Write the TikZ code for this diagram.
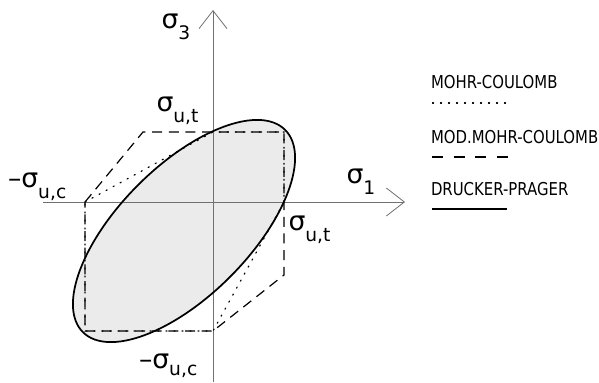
\documentclass[tikz,border=0pt]{standalone}
\usepackage{fontspec}
\setmainfont{DejaVu Sans}
\newfontfamily\legfont[FakeStretch=0.84]{DejaVu Sans}
\usetikzlibrary{arrows.meta}
\definecolor{fillgray}{HTML}{EBEBEB}
\definecolor{axisgray}{HTML}{707070}
\newcommand{\sgm}[1]{{\fontsize{20}{24}\selectfont σ}\raisebox{-8.25pt}{\fontsize{14}{16}\selectfont #1}}
\newcommand{\msgm}[1]{{\fontsize{20}{24}\selectfont –σ}\raisebox{-8.25pt}{\fontsize{14}{16}\selectfont #1}}
\newcommand{\msgmlow}[1]{{\fontsize{20}{24}\selectfont –σ}\raisebox{-5.5pt}{\fontsize{14}{16}\selectfont #1}}
\tikzset{
  axisline/.style={draw=axisgray, line width=0.6pt, -{Straight Barb[length=13.5pt,width=21pt,line width=0.6pt]}},
  mcline/.style={line width=0.9pt, dash pattern=on 0.9pt off 5.1pt, line cap=round},
  mmcline/.style={line width=0.9pt, dash pattern=on 7.5pt off 5pt},
  dpline/.style={line width=1.3pt},
  lab/.style={inner sep=0pt, outer sep=0pt, anchor=base west},
  leg/.style={inner sep=0pt, outer sep=0pt, anchor=base west, font=\legfont\fontsize{13.3}{16}\selectfont},
}
\begin{document}
\begin{tikzpicture}[x=0.75pt, y=-0.75pt]
\useasboundingbox (0,0) rectangle (599,382);
% axes end points
\coordinate (xl) at (43,202);
\coordinate (xr) at (405,202);
\coordinate (yb) at (213,382);
\coordinate (yt) at (213,10);
% vertices
\coordinate (cl) at (85,202);   % (-c,0)
\coordinate (ct) at (213,132);  % (0,t)
\coordinate (tt) at (284,132);  % (t,t)
\coordinate (tz) at (284,202);  % (t,0)
\coordinate (zc) at (213,331);  % (0,-c)
\coordinate (cc) at (85,331);   % (-c,-c)
\coordinate (mt) at (143,132);  % modified upper-left
\coordinate (tm) at (284,275);  % modified lower-right
\coordinate (ec) at (184,231);  % ellipse centre
% ellipse fill
\fill[fillgray, rotate around={45:(ec)}] (ec) ellipse [x radius=107.25pt, y radius=48.75pt];
% axes
\draw[axisline] (xl) -- (xr);
\draw[axisline] (yb) -- (yt);
% Mohr-Coulomb
\draw[mcline] (cl) -- (ct) -- (tt) -- (tz) -- (zc) -- (cc) -- cycle;
% modified Mohr-Coulomb
\draw[mmcline] (cl) -- (mt) -- (tt) -- (tm) -- (zc) -- (cc) -- cycle;
% Drucker-Prager
\draw[dpline, rotate around={45:(ec)}] (ec) ellipse [x radius=107.25pt, y radius=48.75pt];
% labels
\node[lab] (s3) at (161.5,28) {\sgm{3}};
\node[lab] (s1) at (346.5,183) {\sgm{1}};
\node[lab] (sut1) at (156.5,111) {\sgm{u,t}};
\node[lab] (sut2) at (288.5,230) {\sgm{u,t}};
\node[lab] (suc1) at (8,187) {\msgm{u,c}};
\node[lab] (suc2) at (139,368) {\msgmlow{u,c}};
% legend
\node[leg] (mc) at (431,88) {MOHR-COULOMB};
\node[leg] (mmc) at (431,143) {MOD.MOHR-COULOMB};
\node[leg] (dp) at (431,195) {DRUCKER-PRAGER};
\coordinate (mca) at (432.5,103);
\coordinate (mcb) at (510,103);
\coordinate (mmca) at (432,157);
\coordinate (mmcb) at (508,157);
\coordinate (dpa) at (432,209);
\coordinate (dpb) at (507,209);
\draw[line width=0.9pt, dash pattern=on 0.8pt off 5.2pt, line cap=round] (mca) -- (mcb);
\draw[line width=1.3pt, dash pattern=on 8.25pt off 8pt] (mmca) -- (mmcb);
\draw[line width=1.4pt] (dpa) -- (dpb);
\end{tikzpicture}
\end{document}
